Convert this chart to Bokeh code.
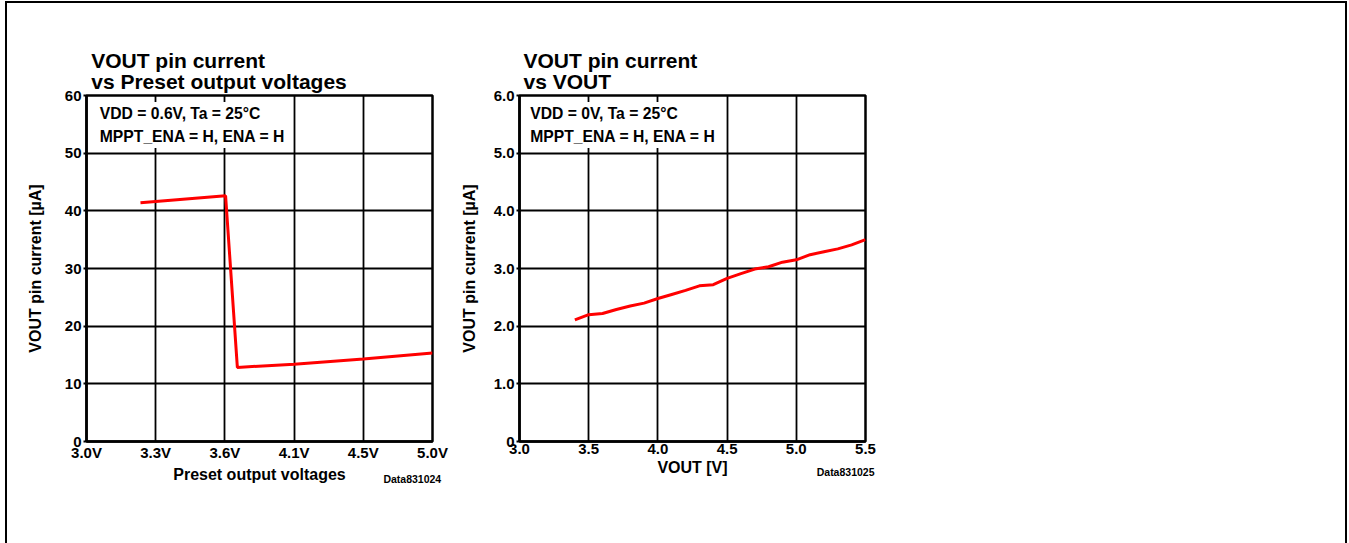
from bokeh.plotting import figure
from bokeh.layouts import row
from bokeh.models import Label, Title, FixedTicker, Range1d
from bokeh.embed import file_html
from bokeh.resources import INLINE

# ---------------- data ----------------
left_x_ticks = [0, 1, 2, 3, 4, 5]
left_x_labels = ["3.0V", "3.3V", "3.6V", "4.1V", "4.5V", "5.0V"]
left_y_ticks = [0, 10, 20, 30, 40, 50, 60]
left_y_labels = ["0", "10", "20", "30", "40", "50", "60"]
left_curve_x = [0.78, 2.01, 2.18, 3.0, 4.0, 5.0]
left_curve_y = [41.4, 42.6, 12.85, 13.4, 14.3, 15.35]

right_x_ticks = [3.0, 3.5, 4.0, 4.5, 5.0, 5.5]
right_x_labels = ["3.0", "3.5", "4.0", "4.5", "5.0", "5.5"]
right_y_ticks = [0, 1, 2, 3, 4, 5, 6]
right_y_labels = ["0", "1.0", "2.0", "3.0", "4.0", "5.0", "6.0"]
right_curve_x = [3.4, 3.5, 3.6, 3.7, 3.8, 3.9, 4.0, 4.1, 4.2, 4.3, 4.4, 4.5,
                 4.6, 4.7, 4.8, 4.9, 5.0, 5.1, 5.2, 5.3, 5.4, 5.5]
right_curve_y = [2.11, 2.20, 2.22, 2.29, 2.35, 2.40, 2.48, 2.55, 2.62, 2.70, 2.72, 2.83,
                 2.91, 2.99, 3.03, 3.11, 3.15, 3.24, 3.29, 3.34, 3.41, 3.50]

FONT = "Liberation Sans"


def make_chart(xr, yr, xt, xl, yt, yl, cx, cy, title1, title2, note1, note2, tag,
               xlabel, min_left, min_right, ylab_standoff, title_dx, note_dx, tag_dx):
    p = figure(frame_width=346, frame_height=346,
               min_border_left=min_left, min_border_right=min_right,
               min_border_top=92, min_border_bottom=102,
               x_range=Range1d(*xr), y_range=Range1d(*yr),
               title_location=None,
               output_backend="svg", toolbar_location=None)
    p.background_fill_color = "white"
    p.border_fill_color = "white"
    p.outline_line_color = "black"
    p.outline_line_width = 2.5
    p.outline_line_alpha = 1

    p.xaxis.ticker = FixedTicker(ticks=xt)
    p.yaxis.ticker = FixedTicker(ticks=yt)
    p.xaxis.major_label_overrides = dict(zip(xt, xl))
    p.yaxis.major_label_overrides = dict(zip(yt, yl))

    p.grid.grid_line_color = "black"
    p.grid.grid_line_width = 1.8
    p.grid.grid_line_alpha = 1

    p.axis.axis_line_color = "black"
    p.axis.axis_line_width = 2.5
    p.axis.minor_tick_line_color = None
    p.axis.major_label_text_font = FONT
    p.axis.major_label_text_font_style = "bold"
    p.axis.major_label_text_font_size = "15px"
    p.axis.major_label_text_color = "black"
    p.axis.axis_label_text_font = FONT
    p.axis.axis_label_text_font_style = "bold"
    p.axis.axis_label_text_font_size = "16px"
    p.axis.axis_label_text_color = "black"

    p.xaxis.major_tick_out = 0
    p.xaxis.major_tick_in = 0
    p.xaxis.major_label_standoff = 2
    p.xaxis.axis_label = xlabel
    p.xaxis.axis_label_standoff = 2

    p.yaxis.major_tick_out = 3
    p.yaxis.major_tick_in = 0
    p.yaxis.major_tick_line_width = 2
    p.yaxis.major_tick_line_color = "black"
    p.yaxis.major_label_standoff = 2
    p.yaxis.axis_label = "VOUT pin current [µA]"
    p.yaxis.axis_label_standoff = ylab_standoff

    p.line(cx, cy, line_color="#ff0000", line_width=3)

    # two-line chart title (closest line first)
    p.add_layout(Title(text=title2, align="left", offset=title_dx, standoff=5,
                       vertical_align="bottom", text_font=FONT, text_font_style="bold",
                       text_font_size="21px", text_color="black"), "above")
    p.add_layout(Title(text=title1, align="left", offset=title_dx, standoff=-13,
                       vertical_align="bottom", text_font=FONT, text_font_style="bold",
                       text_font_size="21px", text_color="black"), "above")
    # data tag under the axis
    p.add_layout(Title(text=tag, align="right", offset=-tag_dx, standoff=-26,
                       vertical_align="top", text_font=FONT, text_font_style="bold",
                       text_font_size="10.5px", text_color="black"), "below")

    x0 = xr[0]
    y1 = yr[1]
    for txt, dy in ((note1, -18.0), (note2, -40.9)):
        p.add_layout(Label(x=x0, y=y1, x_offset=note_dx, y_offset=dy, text=txt,
                           text_font=FONT, text_font_style="bold", text_font_size="15.7px",
                           text_baseline="alphabetic", text_align="left", text_color="black",
                           background_fill_color="white", background_fill_alpha=1,
                           padding=3))
    return p


p1 = make_chart((0, 5), (0, 60), left_x_ticks, left_x_labels, left_y_ticks, left_y_labels,
                left_curve_x, left_curve_y, "VOUT pin current", "vs Preset output voltages",
                "VDD = 0.6V, Ta = 25°C", "MPPT_ENA = H, ENA = H", "Data831024",
                "Preset output voltages", 79, 18, 18, 4.7, 10.3, 8.7)
p2 = make_chart((3.0, 5.5), (0, 6), right_x_ticks, right_x_labels, right_y_ticks, right_y_labels,
                right_curve_x, right_curve_y, "VOUT pin current", "vs VOUT",
                "VDD = 0V, Ta = 25°C", "MPPT_ENA = H, ENA = H", "Data831025",
                "VOUT [V]", 69, 480, 13, 4.0, 7.7, 9.0)

root = row(p1, p2, styles={"margin-left": "5px", "margin-top": "1px",
                           "border-top": "2px solid black", "border-left": "2px solid black",
                           "border-right": "2px solid black", "border-bottom": "none"})

open("out.html", "w").write(file_html(root, INLINE))
